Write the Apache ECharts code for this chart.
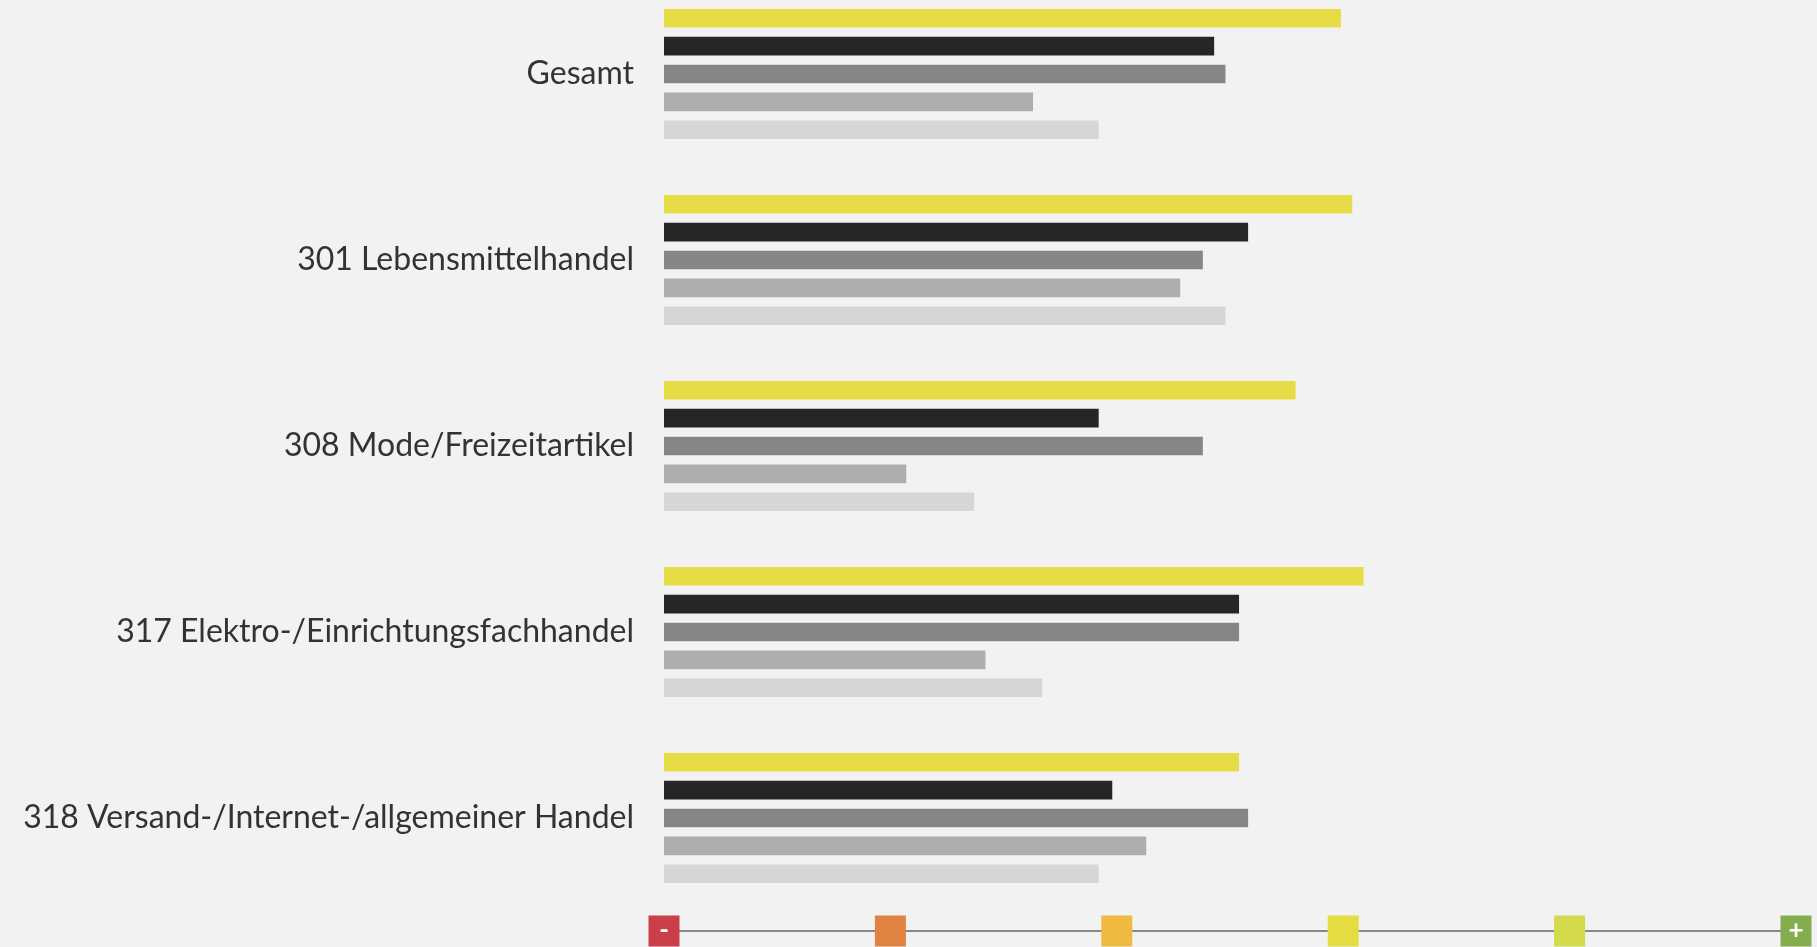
<!DOCTYPE html>
<html>
<head>
<meta charset="utf-8">
<title>Branchen</title>
<script src="https://cdn.jsdelivr.net/npm/echarts@6/dist/echarts.min.js"></script>
<style>
  html, body { margin: 0; padding: 0; background: #f2f2f2; }
  #chart { width: 1817px; height: 947px; }
</style>
</head>
<body>
<div id="chart"></div>
<script>
// categories, top to bottom
const categories = [
  "Gesamt",
  "301 Lebensmittelhandel",
  "308 Mode/Freizeitartikel",
  "317 Elektro-/Einrichtungsfachhandel",
  "318 Versand-/Internet-/allgemeiner Handel",
];

// five bars per category, values on the 0..5 scale (- to +)
const valuesYellow = [2.99, 3.04, 2.79, 3.09, 2.54];
const valuesBlack = [2.43, 2.58, 1.92, 2.54, 1.98];
const valuesDark = [2.48, 2.38, 2.38, 2.54, 2.58];
const valuesMid = [1.63, 2.28, 1.07, 1.42, 2.13];
const valuesLight = [1.92, 2.48, 1.37, 1.67, 1.92];

// bottom scale, from "-" to "+"
const scaleSteps = [0, 1, 2, 3, 4, 5];
const scaleLabels = ["-", "", "", "", "", "+"];
const scaleColors = ["#cb3f4a", "#df8242", "#f0b940", "#e5dc42", "#d3da4b", "#84ae4e"];

const barSeries = [
  { name: "Reihe 1", data: valuesYellow, color: "#e6dd46" },
  { name: "Reihe 2", data: valuesBlack, color: "#262626" },
  { name: "Reihe 3", data: valuesDark, color: "#868686" },
  { name: "Reihe 4", data: valuesMid, color: "#aeaeae" },
  { name: "Reihe 5", data: valuesLight, color: "#d6d6d6" },
];

const chart = echarts.init(document.getElementById("chart"));

const option = {
  backgroundColor: "#f2f2f2",
  animation: false,
  grid: [
    { left: 664, right: 21, top: -19, height: 930, outerBoundsMode: "none" },
    { left: 664, right: 21, top: 911, height: 40, outerBoundsMode: "none" },
  ],
  xAxis: [
    {
      gridIndex: 0,
      type: "value",
      min: 0,
      max: 5,
      show: false,
    },
    {
      gridIndex: 1,
      type: "value",
      min: 0,
      max: 5,
      axisLine: { show: true, onZero: true, lineStyle: { color: "#888", width: 2 } },
      axisTick: { show: false },
      axisLabel: { show: false },
      splitLine: { show: false },
    },
  ],
  yAxis: [
    {
      gridIndex: 0,
      type: "category",
      inverse: true,
      data: categories,
      axisLine: { show: false },
      axisTick: { show: false },
      axisLabel: {
        margin: 30,
        color: "#333",
        fontFamily: "Lato",
        fontSize: 32,
      },
    },
    {
      gridIndex: 1,
      type: "value",
      min: -1,
      max: 1,
      show: false,
    },
  ],
  series: [
    ...barSeries.map((s) => ({
      type: "bar",
      name: s.name,
      data: s.data,
      barWidth: 18.7,
      barGap: "49%",
      itemStyle: { color: s.color },
      silent: true,
    })),
    {
      type: "scatter",
      xAxisIndex: 1,
      yAxisIndex: 1,
      clip: false,
      symbol: "rect",
      symbolSize: 31,
      silent: true,
      data: scaleSteps.map((v, i) => ({
        value: [v, 0],
        itemStyle: { color: scaleColors[i], opacity: 1 },
        label: {
          show: true,
          position: "inside",
          formatter: scaleLabels[i],
          color: "#fff",
          fontFamily: "Lato",
          fontWeight: "bold",
          fontSize: 26,
        },
      })),
    },
  ],
};

chart.setOption(option);
</script>
</body>
</html>
